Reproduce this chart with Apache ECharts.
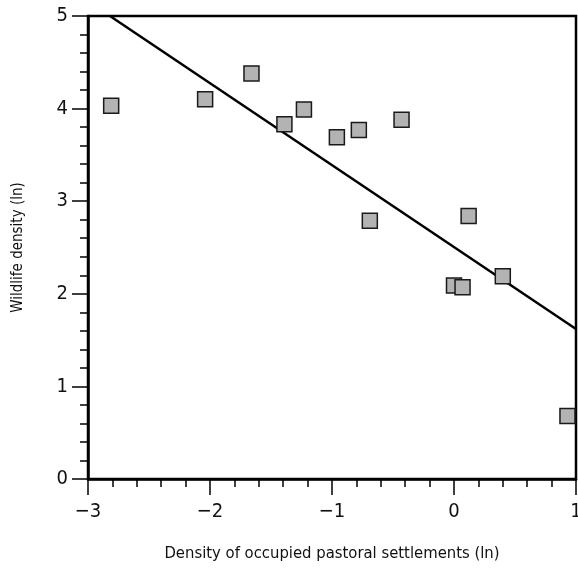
<!DOCTYPE html>
<html lang="en" style="height: 100%">
<head>
  <meta charset="utf-8">
</head>
<body style="height: 100%; margin: 0; background: #fff">
  <div id="container" style="width: 578px; height: 569px"></div>

  <script type="text/javascript" src="https://cdn.jsdelivr.net/npm/echarts@6/dist/echarts.min.js"></script>
  <script type="text/javascript">
    // settlement density (ln) vs wildlife density (ln)
    var settlementLn = [-2.81, -2.04, -1.66, -1.39, -1.23, -0.96, -0.78, -0.43, -0.69, 0.12, 0.00, 0.07, 0.40, 0.93];
    var wildlifeLn   = [4.03, 4.10, 4.38, 3.83, 3.99, 3.69, 3.77, 3.88, 2.79, 2.84, 2.09, 2.07, 2.19, 0.68];
    // fitted line, end points
    var fitX = [-2.82, 1];
    var fitY = [5, 1.62];

    // pick a narrow font if one is installed
    function hasFont(name) {
      var ctx = document.createElement('canvas').getContext('2d');
      ctx.font = '20px monospace';
      var a = ctx.measureText('Density of occupied (ln)').width;
      ctx.font = '20px "' + name + '", monospace';
      return ctx.measureText('Density of occupied (ln)').width !== a;
    }
    var narrow = hasFont('Liberation Sans Narrow');
    var font = narrow ? '"Liberation Sans Narrow", sans-serif' : '"DejaVu Sans Condensed", sans-serif';
    var nameSize = narrow ? 19.5 : 16.5;
    var yNameSize = narrow ? 17.5 : 15;
    var labelSize = narrow ? 23 : 20;

    function minus(v) { return String(v).replace('-', '\u2212'); }

    var points = settlementLn.map(function (x, i) { return [x, wildlifeLn[i]]; });
    var fit = fitX.map(function (x, i) { return [x, fitY[i]]; });

    var dom = document.getElementById('container');
    var myChart = echarts.init(dom, null, { renderer: 'canvas' });

    var option = {
      backgroundColor: '#fff',
      animation: false,
      grid: {
        left: 88, right: 2, top: 16, bottom: 90,
        outerBoundsMode: 'none', containLabel: false,
        show: true, borderColor: '#000', borderWidth: 2.5
      },
      xAxis: {
        type: 'value', min: -3, max: 1, interval: 1,
        name: 'Density of occupied pastoral settlements (ln)',
        nameLocation: 'middle', nameGap: 66,
        nameTextStyle: { fontFamily: font, fontSize: nameSize, color: '#111' },
        axisLine: { onZero: false, lineStyle: { color: '#000', width: 2.5 } },
        axisTick: { length: 16, lineStyle: { color: '#000', width: 1.5 } },
        minorTick: { show: true, splitNumber: 5, length: 8, lineStyle: { color: '#000', width: 1.5 } },
        splitLine: { show: false },
        axisLabel: { fontFamily: font, fontSize: labelSize, color: '#111', margin: 23, formatter: minus }
      },
      yAxis: {
        type: 'value', min: 0, max: 5, interval: 1,
        name: 'Wildlife density (ln)',
        nameLocation: 'middle', nameGap: 62,
        nameTextStyle: { fontFamily: font, fontSize: yNameSize, color: '#111' },
        axisLine: { onZero: false, lineStyle: { color: '#000', width: 2.5 } },
        axisTick: { length: 16, lineStyle: { color: '#000', width: 1.5 } },
        minorTick: { show: true, splitNumber: 5, length: 8, lineStyle: { color: '#000', width: 1.5 } },
        splitLine: { show: false },
        axisLabel: { fontFamily: font, fontSize: labelSize, color: '#111', margin: 20 }
      },
      series: [
        {
          type: 'line', data: fit, showSymbol: false, z: 1,
          lineStyle: { color: '#000', width: 2.5 }
        },
        {
          type: 'scatter', data: points, symbol: 'rect', symbolSize: 15, z: 2,
          itemStyle: { color: '#b3b3b3', borderColor: '#1a1a1a', borderWidth: 1.5, opacity: 1 }
        }
      ]
    };
    myChart.setOption(option);

    window.addEventListener('resize', function () {
      myChart.resize();
    });
  </script>
</body>
</html>
